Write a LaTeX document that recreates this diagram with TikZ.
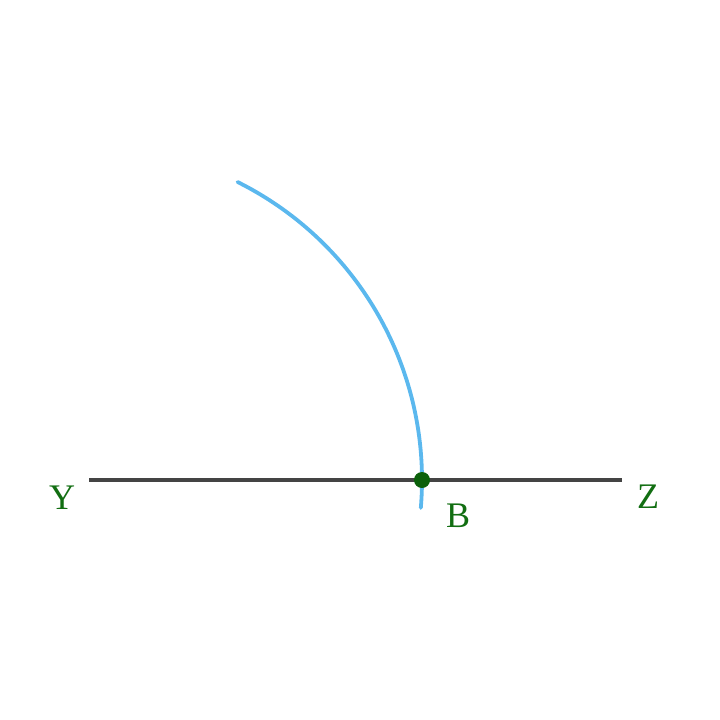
\documentclass[tikz,border=0pt]{standalone}
\usepackage{fontspec}
\setmainfont{Liberation Serif}
\definecolor{lineg}{HTML}{444444}
\definecolor{arcb}{HTML}{5BB8EE}
\definecolor{lbl}{HTML}{0B610B}
\definecolor{txtg}{HTML}{126E12}
\begin{document}
\begin{tikzpicture}[x=1pt,y=-1pt,
  seg/.style={line width=3.6pt,draw=lineg},
  arcst/.style={line width=3.8pt,draw=arcb,line cap=round},
  lab/.style={text=txtg,font=\fontsize{36}{36}\selectfont,inner sep=0pt}]
\useasboundingbox (0,0) rectangle (720,720);
\coordinate (Y) at (89,480);
\coordinate (Z) at (622,480);
\coordinate (B) at (422,480);
\draw[seg] (Y) -- (Z);
\draw[arcst] (Y) ++(4.8:333) arc[start angle=4.8, end angle=-63.5, radius=333];
\fill[lbl] (B) circle (8);
\node[lab] (ly) at (62,498) {Y};
\node[lab] (lz) at (648,497) {Z};
\node[lab] (lb) at (458,516) {B};
\end{tikzpicture}
\end{document}
